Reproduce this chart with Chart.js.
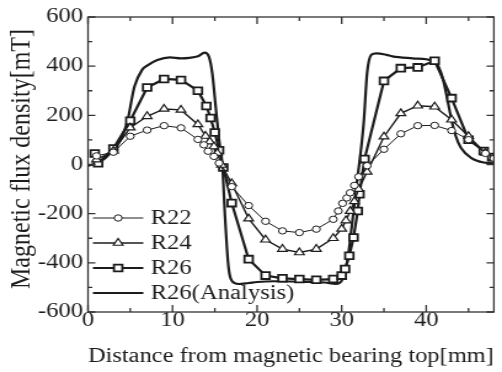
<!DOCTYPE html>
<html>
<head>
<meta charset="utf-8">
<script src="https://cdn.jsdelivr.net/npm/chart.js@4.4.1/dist/chart.umd.min.js"></script>
<style>
    html, body { margin: 0; padding: 0; background: #fff; overflow: hidden; }
    /* the source figure is stretched sideways, so the whole canvas is too */
    #wrap { width: 408px; height: 372px; transform: scaleX(1.2304); transform-origin: 0 0; }
</style>
</head>
<body>
<div id="wrap"><canvas id="fluxChart" width="408" height="372"></canvas></div>
<script>
// Distance [mm] / flux density [mT]
const xR22 = [1, 3, 5, 7, 9, 11, 13, 13.7, 14.2, 14.9, 15.5, 17, 19, 21, 23, 25, 27, 29, 29.6, 30.1, 30.6, 31, 31.5, 32, 33, 35, 37, 39, 41, 43, 45, 47, 48];
const yR22 = [35, 50, 115, 140, 158, 149, 102, 80, 54, 33, 6, -90, -167, -231, -270, -277, -263, -223, -189, -158, -136, -115, -85, -50, -5, 62, 125, 158, 159, 138, 101, 45, 25];

const xR24 = [1, 3, 5, 7, 9, 11, 13, 13.9, 14.4, 14.9, 15.3, 15.8, 17, 19, 21, 23, 25, 27, 29, 30, 30.5, 31, 31.5, 32, 33, 35, 37, 39, 41, 43, 45, 47, 48];
const yR24 = [20, 55, 150, 196, 226, 222, 163, 116, 93, 73, 46, -2, -77, -220, -306, -344, -358, -344, -300, -262, -228, -190, -150, -100, -30, 113, 208, 239, 235, 182, 115, 47, 25];

const xR26 = [0.8, 1.2, 3, 5, 7, 9, 11, 13, 14, 14.5, 15, 15.5, 16, 17, 19, 21, 23, 25, 27, 29, 30, 30.4, 30.9, 31.4, 31.9, 32.1, 32.7, 35, 37, 39, 41, 43, 45, 46.8, 47.8];
const yR26 = [45, 5, 65, 178, 313, 348, 344, 300, 238, 189, 130, 58, -12, -157, -385, -452, -463, -466, -469, -466, -452, -425, -371, -297, -189, -121, 22, 340, 392, 395, 422, 270, 101, 55, 30];

const xAnalysis = [0, 1, 2, 3, 4, 4.7, 5.5, 6.4, 7, 8.2, 9.7, 11, 12, 13, 13.8, 14.3, 14.7, 15.1, 15.5, 15.9, 16.2, 16.6, 17, 17.8, 19, 20, 22, 24, 26, 28, 29.3, 30.1, 30.7, 31.2, 31.8, 32.6, 33, 33.5, 34.1, 35.3, 36, 38.4, 40, 41, 41.5, 42, 42.5, 43, 43.5, 44.1, 45.3, 46.8, 48];
const yAnalysis = [-5, 5, 25, 60, 110, 182, 317, 385, 402, 425, 436, 432, 434, 440, 455, 439, 371, 236, 101, -7, -209, -412, -473, -486, -482, -478, -475, -476, -478, -480, -486, -466, -385, -250, -74, 169, 371, 446, 452, 446, 440, 432, 428, 418, 395, 345, 265, 180, 115, 68, 27, 8, 5];

const xTicks = [0, 10, 20, 30, 40];
const yTicks = [-600, -400, -200, 0, 200, 400, 600];
const xMinorStep = 5;
const yMinorStep = 100;

const INK = '#1c1c1c';
const FONT = '"Liberation Serif", "Times New Roman", serif';

function toPoints(xs, ys) {
    return xs.map((x, i) => ({ x: x, y: ys[i] }));
}

function drawMarker(ctx, style, r, x, y) {
    ctx.beginPath();
    if (style === 'circle') {
        ctx.arc(x, y, r, 0, Math.PI * 2);
    } else if (style === 'triangle') {
        ctx.moveTo(x, y - r);
        ctx.lineTo(x + r * 0.87, y + r * 0.5);
        ctx.lineTo(x - r * 0.87, y + r * 0.5);
        ctx.closePath();
    } else if (style === 'rect') {
        const s = r * Math.SQRT1_2;
        ctx.rect(x - s, y - s, s * 2, s * 2);
    }
    ctx.fill();
    ctx.stroke();
}

// frame, inward ticks, y title and the legend inside the plot
const decorations = {
    id: 'decorations',
    afterDraw(chart) {
        const { ctx, chartArea: a, scales: { x, y } } = chart;
        ctx.save();

        ctx.strokeStyle = '#333';
        ctx.lineWidth = 1.3;
        ctx.strokeRect(a.left, a.top, a.right - a.left, a.bottom - a.top);

        ctx.beginPath();
        for (let v = x.min; v <= x.max; v += xMinorStep) {
            const px = x.getPixelForValue(v);
            const len = v % 10 === 0 ? 7 : 4;
            ctx.moveTo(px, a.bottom); ctx.lineTo(px, a.bottom - len);
            ctx.moveTo(px, a.top); ctx.lineTo(px, a.top + len);
        }
        for (let v = y.min; v <= y.max; v += yMinorStep) {
            const py = y.getPixelForValue(v);
            const len = v % 200 === 0 ? 6 : 3.5;
            ctx.moveTo(a.left, py); ctx.lineTo(a.left + len, py);
            ctx.moveTo(a.right, py); ctx.lineTo(a.right - len, py);
        }
        ctx.stroke();

        // y axis title
        ctx.fillStyle = INK;
        ctx.font = '24px ' + FONT;
        ctx.textAlign = 'center';
        ctx.textBaseline = 'middle';
        ctx.save();
        ctx.translate(17.5, 159);
        ctx.rotate(-Math.PI / 2);
        ctx.fillText('Magnetic flux density[mT]', 0, 0);
        ctx.restore();

        // legend
        ctx.font = '20px ' + FONT;
        ctx.textAlign = 'left';
        chart.data.datasets.forEach((ds, i) => {
            const rowY = a.bottom - 94 + i * 25;
            const x0 = a.left + 4;
            const x1 = a.left + 45;
            ctx.strokeStyle = INK;
            ctx.lineWidth = ds.borderWidth;
            ctx.beginPath();
            ctx.moveTo(x0, rowY);
            ctx.lineTo(x1, rowY);
            ctx.stroke();
            if (ds.pointRadius > 0) {
                ctx.fillStyle = '#fff';
                ctx.lineWidth = ds.pointBorderWidth;
                drawMarker(ctx, ds.pointStyle, ds.pointRadius, (x0 + x1) / 2, rowY);
            }
            ctx.fillStyle = INK;
            ctx.fillText(ds.label, a.left + 51, rowY + 1);
        });

        ctx.restore();
    }
};

new Chart(document.getElementById('fluxChart'), {
    type: 'scatter',
    data: {
        datasets: [
            {
                label: 'R22',
                data: toPoints(xR22, yR22),
                showLine: true,
                borderColor: INK,
                borderWidth: 1,
                pointStyle: 'circle',
                pointRadius: 3.2,
                pointBorderWidth: 1,
                pointBackgroundColor: '#fff',
                pointBorderColor: INK
            },
            {
                label: 'R24',
                data: toPoints(xR24, yR24),
                showLine: true,
                borderColor: INK,
                borderWidth: 1.4,
                pointStyle: 'triangle',
                pointRadius: 4.5,
                pointBorderWidth: 1.2,
                pointBackgroundColor: '#fff',
                pointBorderColor: INK
            },
            {
                label: 'R26',
                data: toPoints(xR26, yR26),
                showLine: true,
                borderColor: INK,
                borderWidth: 2.2,
                pointStyle: 'rect',
                pointRadius: 4.8,
                pointBorderWidth: 1.8,
                pointBackgroundColor: '#fff',
                pointBorderColor: INK
            },
            {
                label: 'R26(Analysis)',
                data: toPoints(xAnalysis, yAnalysis),
                showLine: true,
                borderColor: INK,
                borderWidth: 2.2,
                pointRadius: 0,
                cubicInterpolationMode: 'monotone'
            }
        ]
    },
    options: {
        responsive: false,
        animation: false,
        devicePixelRatio: 1,
        layout: { padding: { top: 17, right: 0.5, left: 0, bottom: 0 } },
        plugins: {
            legend: { display: false },
            tooltip: { enabled: false }
        },
        scales: {
            x: {
                type: 'linear',
                position: 'bottom',
                min: 0,
                max: 48,
                afterBuildTicks: (s) => { s.ticks = xTicks.map(v => ({ value: v })); },
                afterFit: (s) => { s.height = 60; },
                grid: { display: false, drawTicks: false },
                border: { display: false },
                ticks: {
                    padding: -3,
                    color: INK,
                    font: { family: FONT, size: 20 }
                },
                title: {
                    display: true,
                    text: 'Distance from magnetic bearing top[mm]',
                    color: INK,
                    font: { family: FONT, size: 20 },
                    padding: { top: 0, bottom: 3 }
                }
            },
            y: {
                type: 'linear',
                min: -600,
                max: 600,
                afterBuildTicks: (s) => { s.ticks = yTicks.map(v => ({ value: v })); },
                afterFit: (s) => { s.width = 71.5; },
                grid: { display: false, drawTicks: false },
                border: { display: false },
                ticks: {
                    padding: 4,
                    color: INK,
                    font: { family: FONT, size: 20 }
                }
            }
        }
    },
    plugins: [decorations]
});
</script>
</body>
</html>
